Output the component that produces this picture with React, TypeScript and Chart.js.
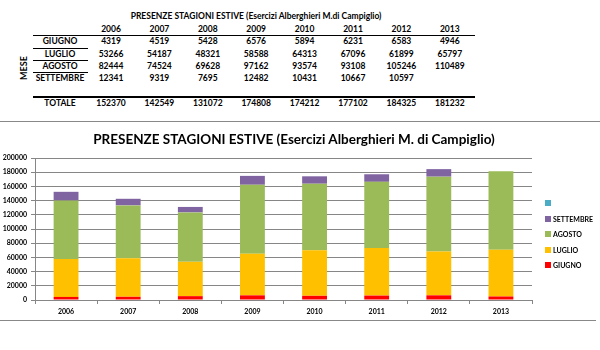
import React, { useEffect, useRef } from "react";
import { Chart, registerables } from "chart.js";
Chart.register(...registerables);

const title = "PRESENZE STAGIONI ESTIVE (Esercizi Alberghieri M. di Campiglio)";
const tableTitle = "PRESENZE STAGIONI ESTIVE (Esercizi Alberghieri M.di Campiglio)";
const years = ["2006", "2007", "2008", "2009", "2010", "2011", "2012", "2013"];
const months = ["GIUGNO", "LUGLIO", "AGOSTO", "SETTEMBRE"];
const giugno = [4319, 4519, 5428, 6576, 5894, 6231, 6583, 4946];
const luglio = [53266, 54187, 48321, 58588, 64313, 67096, 61899, 65797];
const agosto = [82444, 74524, 69628, 97162, 93574, 93108, 105246, 110489];
const settembre: (number | null)[] = [12341, 9319, 7695, 12482, 10431, 10667, 10597, null];
const totale = [152370, 142549, 131072, 174808, 174212, 177102, 184325, 181232];
const extraLabel = "";
const extra: (number | null)[] = [null, null, null, null, null, null, null, null];
const yMax = 200000;
const yStep = 20000;
const colors = ["#FF0000", "#FFC000", "#9BBB59", "#8064A2", "#4BACC6"];

const seriesData = [giugno, luglio, agosto, settembre, extra];
const seriesLabels = [...months, extraLabel];

const FONT = "Lato, 'Open Sans', sans-serif";

export default function App() {
  const ref = useRef<HTMLCanvasElement>(null);
  useEffect(() => {
    document.body.style.margin = "0";
    const chart = new Chart(ref.current!, {
      type: "bar",
      data: {
        labels: years,
        datasets: seriesData.map((d, i) => ({
          label: seriesLabels[i],
          data: d,
          backgroundColor: colors[i],
          borderWidth: 0,
          barPercentage: 0.8,
          categoryPercentage: 0.5,
        })),
      },
      options: {
        animation: false,
        responsive: false,
        maintainAspectRatio: false,
        layout: { padding: { left: 0, right: 68, top: 36, bottom: 0 } },
        plugins: {
          legend: { display: false },
          tooltip: { enabled: false },
          title: { display: false },
        },
        scales: {
          x: {
            stacked: true,
            grid: {
              display: true,
              drawOnChartArea: false,
              drawTicks: true,
              tickLength: 4,
              offset: true,
              color: "#868686",
            },
            border: { color: "#868686" },
            ticks: { color: "#000", font: { family: FONT, size: 7, weight: "bold" }, padding: 4 },
            afterFit: (s: any) => { s.height = 22; },
          },
          y: {
            stacked: true,
            min: 0,
            max: yMax,
            grid: { color: "#868686", tickLength: 4 },
            border: { color: "#868686" },
            ticks: {
              stepSize: yStep,
              color: "#000",
              font: { family: FONT, size: 7, weight: "bold" },
              padding: 4,
              callback: (v: any) => String(v),
            },
            afterFit: (s: any) => { s.width = 35; },
          },
        },
      },
    });
    return () => chart.destroy();
  }, []);

  const colX = (i: number) => 111 + i * 48.4;
  const txt = (s: string | number | null, x: number, y: number, size = 8.5, key?: string) => (
    <div
      key={key}
      style={{
        position: "absolute",
        left: x - 40,
        width: 80,
        top: y - 6,
        height: 12,
        lineHeight: "12px",
        textAlign: "center",
        fontSize: size,
        fontWeight: "bold",
        fontFamily: FONT,
        color: "#000",
        whiteSpace: "nowrap",
      }}
    >
      {s === null ? "" : s}
    </div>
  );
  const hline = (x1: number, x2: number, y: number, w = 1.5, key?: string) => (
    <div key={key} style={{ position: "absolute", left: x1, width: x2 - x1, top: y, height: w, background: "#000" }} />
  );
  const rowY = [41, 53.5, 65.5, 78];
  const legendItems = seriesLabels.map((l, i) => ({ l, c: colors[i] })).reverse();

  return (
    <div style={{ position: "relative", width: 600, height: 350, background: "#fff", overflow: "hidden" }}>
      <div
        style={{
          position: "absolute", left: 100, width: 312, top: 10, height: 12, lineHeight: "12px",
          textAlign: "center", fontSize: 8.5, fontWeight: "bold", fontFamily: FONT, whiteSpace: "nowrap",
        }}
      >
        {tableTitle}
      </div>
      {years.map((y, i) => txt(y, colX(i), 29, 8.5, "y" + i))}
      {hline(33, 475, 34.5, 1.5, "h0")}
      {months.map((m, r) => txt(m, 60, rowY[r], 8.5, "m" + r))}
      {[47.5, 59.5, 71.5].map((y, i) => hline(33, 88, y, 1, "s" + i))}
      {seriesData.slice(0, 4).map((d, r) => d.map((v, i) => txt(v, colX(i), rowY[r], 8.5, `v${r}-${i}`)))}
      {hline(33, 475, 96, 1.5, "h1")}
      {txt("TOTALE", 60, 103, 8.5, "tot")}
      {totale.map((v, i) => txt(v, colX(i), 103, 8.5, "t" + i))}
      <div
        style={{
          position: "absolute", left: 4, top: 62, width: 40, height: 12, lineHeight: "12px", textAlign: "center",
          transform: "rotate(-90deg)", fontSize: 9, fontWeight: "bold", fontFamily: FONT,
        }}
      >
        MESE
      </div>
      <div style={{ position: "absolute", left: 0, width: 600, top: 121, height: 1, background: "#888" }} />
      <canvas ref={ref} width={600} height={200} style={{ position: "absolute", left: 0, top: 122, width: 600, height: 200 }} />
      <div
        style={{
          position: "absolute", left: 44, width: 500, top: 130, height: 18, lineHeight: "18px",
          textAlign: "center", fontSize: 13.5, fontWeight: "bold", fontFamily: FONT, whiteSpace: "nowrap", color: "#000",
        }}
      >
        {title}
      </div>
      <div style={{ position: "absolute", left: 0, width: 596, top: 320, height: 1, background: "#888" }} />
      {legendItems.map((it, i) => (
        <div key={"l" + i} style={{ position: "absolute", left: 545, top: 203 + i * 15.6 - 5, height: 10, display: "flex", alignItems: "center" }}>
          <div style={{ width: 6, height: 6, background: it.c, marginRight: 2 }} />
          <span style={{ fontSize: 7, fontFamily: FONT, fontWeight: "bold", color: "#000", lineHeight: "10px" }}>{it.l}</span>
        </div>
      ))}
    </div>
  );
}
